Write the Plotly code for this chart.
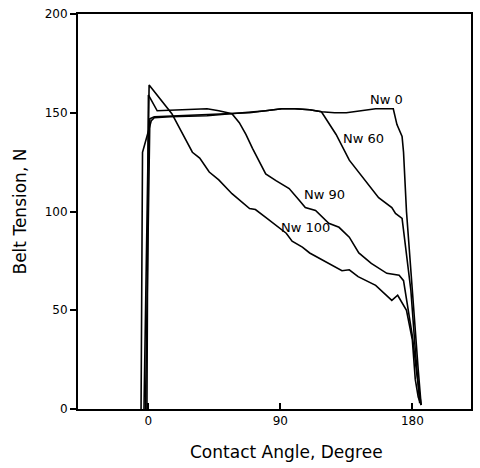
import plotly.graph_objects as go

# Contact angle (degree) / belt tension (N)
nw0_x = [-5, -4, -1, 2, 4, 15, 40, 57, 69, 80, 91, 100, 110, 118, 127, 135, 145, 155, 167, 169.5, 173, 174, 176, 179, 182, 184, 186]
nw0_y = [0, 130, 138, 146, 147.5, 148, 148.5, 149.5, 150, 151, 152, 152, 151.5, 150.5, 150, 150, 151, 152, 152, 144, 138, 130, 100, 72, 40, 20, 2]

nw60_x = [-2, 1, 4, 20, 40, 57, 69, 80, 91, 100, 110, 118, 128, 137, 147, 157, 166, 168.5, 173, 174, 176, 179, 182, 185]
nw60_y = [0, 147, 148, 148.5, 149, 149.5, 150, 151, 152, 152, 151.5, 150.5, 139, 126, 116.7, 107, 102, 99, 96.5, 90.4, 79, 60, 30, 3]

nw90_x = [-1, 0, 6, 20, 40, 48, 57, 62, 66.5, 71, 80, 87, 96, 103, 107, 114, 123, 130, 137, 143.5, 152, 162.6, 171, 174, 176, 180, 183, 186]
nw90_y = [0, 159, 151, 151.5, 152, 151, 149.5, 145, 139, 132, 119, 115.6, 111.6, 105.6, 102, 100.5, 94, 92, 87, 79, 73.7, 68.7, 67.7, 65, 55, 37, 18, 2]

nw100_x = [-3, 0.5, 16, 30, 35, 41.5, 48, 57, 69, 73, 80, 94, 98, 105, 110, 123, 132, 137, 143, 155, 166, 170, 172, 176, 180, 182, 184, 186]
nw100_y = [0, 164, 149.5, 130, 127, 120, 116, 109, 101.5, 101, 97, 89, 85, 82, 79, 73.5, 70, 70.5, 67, 62.6, 55, 57.6, 55, 50, 35, 15, 6, 2]

series = [("Nw0", nw0_x, nw0_y), ("Nw60", nw60_x, nw60_y),
          ("Nw90", nw90_x, nw90_y), ("Nw100", nw100_x, nw100_y)]

label_names = ["Nw0", "Nw60", "Nw90", "Nw100"]
label_x = [162.6, 147, 120, 107]
label_y = [156.6, 137, 108.6, 92]

x_ticks = [0, 90, 180]
y_ticks = [0, 50, 100, 150, 200]

FONT = "DejaVu Sans"

fig = go.Figure()
for name, xs, ys in series:
    fig.add_trace(go.Scatter(x=xs, y=ys, mode="lines", name=name,
                             line=dict(color="black", width=1.6),
                             showlegend=False, hoverinfo="skip"))

for n, lx, ly in zip(label_names, label_x, label_y):
    fig.add_annotation(x=lx, y=ly, text=n.replace("Nw", "Nw "), showarrow=False,
                       font=dict(family=FONT, size=13, color="black"),
                       bgcolor="rgba(0,0,0,0)")

fig.add_annotation(xref="paper", yref="paper", x=0.53, y=0, yshift=-43,
                   text="Contact Angle, Degree", showarrow=False,
                   xanchor="center", yanchor="middle",
                   font=dict(family=FONT, size=17, color="black"))
fig.add_annotation(xref="paper", yref="paper", x=0, y=0.5, xshift=-59,
                   text="Belt Tension, N", showarrow=False, textangle=-90,
                   xanchor="center", yanchor="middle",
                   font=dict(family=FONT, size=17, color="black"))

fig.update_layout(
    width=480, height=468,
    margin=dict(l=78, r=7, t=13, b=59),
    paper_bgcolor="white", plot_bgcolor="white",
    xaxis=dict(range=[-48, 220], tickvals=x_ticks, ticktext=[str(v) for v in x_ticks],
               ticks="inside", ticklen=6, tickwidth=1.5, tickcolor="black",
               showline=True, linecolor="black", linewidth=2, mirror=True,
               showgrid=False, zeroline=False,
               tickfont=dict(family=FONT, size=12, color="black")),
    yaxis=dict(range=[0, 200], tickvals=y_ticks, ticktext=[str(v) for v in y_ticks],
               ticks="outside", ticklen=6, tickwidth=1.5, tickcolor="black",
               showline=True, linecolor="black", linewidth=2, mirror=True,
               showgrid=False, zeroline=False,
               tickfont=dict(family=FONT, size=12, color="black")),
)

fig.write_html("out.html")
